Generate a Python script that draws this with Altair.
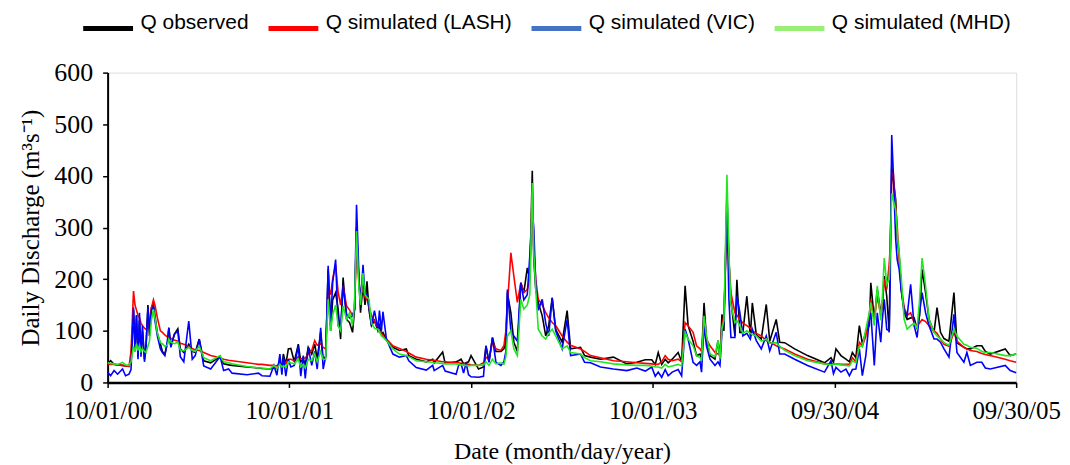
import altair as alt
import pandas as pd

series_names = ["Q observed", "Q simulated (LASH)", "Q simulated (VIC)", "Q simulated (MHD)"]
line_colors = ["#000000", "#FF0000", "#0000FF", "#22E622"]
legend_colors = ["#000000", "#FF0000", "#4472C4", "#99EE77"]
x_tick_days = [0, 365, 730, 1095, 1460, 1825]
x_tick_labels = ["10/01/00", "10/01/01", "10/01/02", "10/01/03", "09/30/04", "09/30/05"]
y_ticks = [0, 100, 200, 300, 400, 500, 600]

# days since 10/01/2000
days = [
    0, 6, 13, 20, 30, 36, 43, 47, 52, 55, 58, 61, 64, 67, 70, 74, 77, 81, 84, 88, 92, 95, 100, 106,
    110, 115, 120, 123, 127, 134, 141, 146, 153, 163, 170, 176, 184, 193, 207, 226, 233, 243, 250, 280,
    303, 310, 326, 334, 340, 346, 350, 353, 358, 363,
    368, 375, 383, 388, 393, 397, 403, 410, 416, 421, 428, 433, 438, 443, 448, 452, 458, 463, 468, 473,
    480, 486, 492, 496, 500, 503, 505, 508, 513, 517, 521, 525, 530, 536, 543, 546, 550, 553, 560, 573,
    586, 600, 605, 620, 640, 653, 656, 673, 678, 700, 705, 710, 715, 720, 725,
    730, 745, 755, 760, 766, 773, 780, 790, 796, 800, 803, 810, 816, 823, 830, 836, 843, 848, 853, 856,
    860, 865, 873, 880, 886, 893, 900, 913, 923, 930, 950, 958, 970, 990, 1016, 1043, 1063, 1080, 1093, 1100,
    1106, 1113, 1120, 1126, 1134, 1146, 1153, 1160, 1166, 1176, 1183, 1190, 1193, 1198, 1203, 1210,
    1220, 1226, 1230, 1234, 1238, 1244, 1248, 1252, 1260, 1264, 1270, 1276, 1284, 1291, 1295, 1303,
    1313, 1323, 1330, 1343, 1350, 1360, 1380, 1406, 1440, 1453, 1458,
    1463, 1473, 1483, 1490, 1496, 1503, 1510, 1516, 1523, 1530, 1533, 1540, 1546, 1553, 1556, 1560,
    1565, 1570, 1572, 1575, 1578, 1583, 1586, 1590, 1594, 1600, 1606, 1613, 1620, 1626, 1631, 1636,
    1643, 1650, 1660, 1666, 1673, 1680, 1690, 1700, 1706, 1720, 1726, 1733, 1746, 1756, 1763, 1773,
    1803, 1813, 1825,
]

q_obs = [
    36, 42, 35, 34, 33, 32, 31, 45, 140, 60, 130, 50, 120, 55, 100, 45, 70, 150, 90, 145, 151, 130, 95, 75,
    60, 55, 75, 106, 70, 93, 104, 65, 58, 74, 60, 58, 84, 42, 38, 50, 36, 34, 33, 30,
    28, 27, 26, 28, 27, 40, 30, 55, 35, 65,
    66, 40, 74, 40, 45, 35, 68, 55, 74, 45, 97, 45, 50, 219, 100, 160, 174, 142, 84, 203,
    122, 116, 97, 142, 300, 230, 200, 135, 190, 150, 196, 140, 110, 120, 100, 110, 95, 97, 82, 68,
    62, 65, 52, 45, 40, 45, 38, 59, 37, 40, 42, 45, 36, 38, 40,
    52, 26, 30, 71, 40, 87, 60, 60, 65, 80, 174, 135, 78, 60, 193, 174, 222, 200, 410, 238,
    180, 155, 129, 90, 110, 164, 103, 78, 139, 65, 68, 52, 49, 45, 49, 36, 39, 44, 44, 35,
    58, 35, 45, 38, 45, 58, 40, 187, 110, 80, 52, 55, 45, 154, 84, 52,
    45, 81, 45, 132, 100, 370, 238, 160, 90, 199, 97, 97, 167, 90, 154, 92,
    84, 151, 80, 122, 78, 77, 65, 52, 38, 48, 39,
    65, 52, 45, 40, 58, 48, 110, 75, 97, 110, 193, 122, 180, 135, 150, 206,
    167, 97, 251, 418, 392, 354, 283, 245, 180, 135, 122, 125, 125, 103, 130, 219,
    174, 122, 97, 145, 97, 85, 80, 174, 77, 68, 65, 65, 71, 71, 60, 55,
    65, 52, 55,
]

q_lash = [
    36, 35, 35, 34, 33, 32, 31, 60, 177, 150, 140, 130, 125, 115, 110, 105, 103, 110, 118, 145, 160, 150, 125, 100,
    97, 92, 88, 90, 85, 82, 80, 76, 74, 70, 66, 63, 62, 58, 52, 48, 45, 43, 42, 38,
    35, 35, 33, 33, 32, 38, 36, 39, 38, 45,
    45, 42, 50, 45, 48, 47, 55, 62, 81, 72, 75, 68, 65, 187, 170, 200, 228, 175, 150, 187,
    148, 140, 130, 140, 270, 220, 190, 170, 180, 165, 160, 145, 130, 118, 105, 100, 96, 90, 84, 71,
    66, 60, 57, 49, 45, 43, 43, 40, 40, 38, 38, 37, 36, 37, 35,
    34, 33, 38, 49, 45, 78, 65, 62, 71, 100, 148, 251, 206, 155, 193, 174, 180, 200, 370, 257,
    200, 161, 150, 135, 125, 116, 110, 90, 78, 72, 65, 60, 52, 48, 42, 40, 38, 37, 36, 35,
    35, 40, 52, 45, 42, 45, 40, 116, 110, 97, 71, 65, 60, 120, 84, 71,
    58, 55, 55, 110, 130, 322, 232, 174, 135, 130, 122, 115, 110, 105, 100, 95,
    90, 81, 78, 71, 68, 65, 55, 45, 36, 36, 36,
    36, 35, 35, 35, 48, 40, 78, 70, 90, 130, 161, 120, 167, 130, 145, 200,
    180, 230, 264, 399, 408, 340, 302, 240, 187, 145, 130, 135, 116, 110, 115, 122,
    118, 110, 100, 95, 84, 74, 70, 97, 80, 68, 65, 62, 60, 56, 54, 52,
    45, 42, 39,
]

q_vic = [
    20, 13, 23, 16, 26, 13, 16, 25, 145, 70, 130, 45, 135, 50, 110, 40, 65, 145, 100, 140, 147, 120, 90, 65,
    58, 52, 80, 106, 68, 93, 100, 50, 40, 119, 45, 52, 84, 32, 26, 50, 23, 26, 18, 15,
    18, 13, 12, 33, 14, 55, 15, 50, 12, 45,
    30, 33, 70, 12, 52, 8, 68, 33, 60, 26, 106, 26, 50, 226, 110, 193, 238, 110, 103, 187,
    132, 125, 129, 142, 344, 260, 200, 150, 228, 170, 170, 150, 110, 139, 103, 139, 100, 137, 84, 55,
    49, 52, 42, 29, 24, 33, 23, 33, 22, 16, 33, 36, 18, 38, 15,
    11, 10, 12, 71, 39, 87, 39, 33, 40, 60, 180, 100, 90, 80, 193, 160, 170, 245, 334, 300,
    190, 140, 161, 115, 90, 164, 100, 65, 122, 52, 55, 39, 38, 30, 26, 23, 28, 22, 30, 12,
    20, 10, 25, 13, 20, 25, 13, 103, 84, 39, 33, 40, 20, 110, 70, 45,
    33, 40, 33, 97, 116, 338, 160, 87, 87, 167, 135, 90, 95, 84, 103, 81,
    65, 90, 61, 97, 55, 55, 45, 33, 20, 42, 17,
    29, 20, 26, 13, 25, 26, 65, 13, 52, 122, 135, 33, 135, 78, 120, 161,
    103, 100, 200, 479, 411, 277, 238, 219, 180, 140, 129, 190, 110, 87, 135, 174,
    135, 110, 84, 84, 78, 65, 49, 132, 58, 39, 58, 33, 39, 39, 28, 26,
    33, 23, 19,
]

q_mhd = [
    38, 37, 36, 35, 39, 34, 33, 40, 70, 60, 75, 62, 72, 60, 65, 60, 58, 70, 80, 120, 142, 125, 95, 77,
    75, 70, 72, 84, 78, 75, 78, 63, 61, 68, 62, 60, 70, 48, 42, 52, 40, 38, 36, 31,
    28, 28, 26, 33, 27, 35, 30, 32, 30, 40,
    38, 36, 45, 30, 35, 28, 45, 42, 55, 40, 60, 45, 45, 161, 100, 130, 150, 110, 100, 148,
    122, 135, 110, 155, 293, 220, 180, 150, 212, 170, 165, 161, 115, 105, 103, 98, 90, 88, 81, 65,
    55, 52, 50, 42, 40, 39, 38, 37, 36, 36, 35, 34, 33, 33, 32,
    33, 33, 34, 40, 33, 45, 36, 38, 35, 50, 90, 100, 65, 52, 161, 142, 150, 170, 386, 251,
    180, 103, 90, 84, 95, 103, 90, 65, 71, 58, 55, 48, 42, 40, 36, 34, 33, 33, 32, 30,
    30, 28, 35, 30, 32, 35, 32, 97, 84, 71, 52, 48, 42, 129, 90, 55,
    50, 81, 45, 104, 120, 402, 250, 150, 116, 120, 110, 95, 100, 95, 93, 90,
    80, 84, 76, 77, 70, 62, 52, 42, 36, 34, 35,
    36, 34, 33, 32, 42, 38, 70, 70, 103, 135, 155, 110, 187, 120, 161, 241,
    190, 200, 250, 366, 354, 334, 289, 251, 206, 122, 103, 110, 115, 105, 160, 241,
    187, 122, 97, 90, 84, 77, 72, 103, 90, 74, 72, 68, 66, 60, 58, 58,
    52, 52, 55,
]

series_values = [q_obs, q_lash, q_vic, q_mhd]

rows = []
for name, vals in zip(series_names, series_values):
    for d, v in zip(days, vals):
        rows.append({"day": d, "Q": v, "series": name})
df = pd.DataFrame(rows)

legend_df = pd.DataFrame({"series": series_names, "day": [0] * 4, "Q": [0] * 4})

serif = "Liberation Serif"
label_expr = (
    "[" + ",".join("'" + s + "'" for s in x_tick_labels) + "][indexof("
    + "[" + ",".join(str(d) for d in x_tick_days) + "], datum.value)]"
)

x_enc = alt.X(
    "day:Q",
    scale=alt.Scale(domain=[0, 1825], nice=False, zero=False),
    axis=alt.Axis(
        values=x_tick_days, labelExpr=label_expr, title="Date (month/day/year)",
        grid=False, tickSize=5, tickColor="black", tickWidth=1.5,
        domainColor="black", domainWidth=2.5,
        labelFont=serif, labelFontSize=25, labelColor="black", labelPadding=11,
        labelOverlap=False, labelFlush=False, labelBound=False,
        titleFont=serif, titleFontSize=24, titleFontWeight="normal", titleColor="black",
        titlePadding=16,
    ),
)
y_enc = alt.Y(
    "Q:Q",
    scale=alt.Scale(domain=[0, 600], nice=False),
    axis=alt.Axis(
        values=y_ticks, title="Daily Discharge (m³s⁻¹)",
        grid=False, tickSize=5, tickColor="black", tickWidth=1.5,
        domainColor="black", domainWidth=2,
        labelFont=serif, labelFontSize=26, labelColor="black", labelPadding=10,
        titleFont=serif, titleFontSize=25, titleFontWeight="normal", titleColor="black",
        titlePadding=10,
    ),
)

layers = []
for name, col in zip(series_names, line_colors):
    layers.append(
        alt.Chart(df)
        .transform_filter(alt.datum.series == name)
        .mark_line(color=col, strokeWidth=1.6)
        .encode(x=x_enc, y=y_enc)
    )

legend_layer = (
    alt.Chart(legend_df)
    .mark_line(strokeWidth=5)
    .encode(
        x=x_enc,
        y=y_enc,
        color=alt.Color(
            "series:N",
            scale=alt.Scale(domain=series_names, range=legend_colors),
            legend=alt.Legend(
                orient="none", legendX=-27, legendY=-72, direction="horizontal",
                columns=4, title=None, symbolType="stroke", symbolSize=2500,
                symbolStrokeWidth=5, labelFont="Liberation Sans", labelFontSize=21,
                labelColor="black", labelOffset=5, columnPadding=9, labelLimit=400,
                labelBaseline="alphabetic",
            ),
            sort=series_names,
        ),
    )
)

chart = (
    alt.layer(*layers, legend_layer)
    .properties(
        width=912, height=311,
        autosize=alt.AutoSizeParams(type="none"),
        padding={"left": 100, "top": 64, "right": 46, "bottom": 82},
    )
    .configure_view(stroke="black", strokeWidth=1.5)
    .configure(background="white")
)

chart.save("out.html", embed_options={"renderer": "svg", "actions": False})
